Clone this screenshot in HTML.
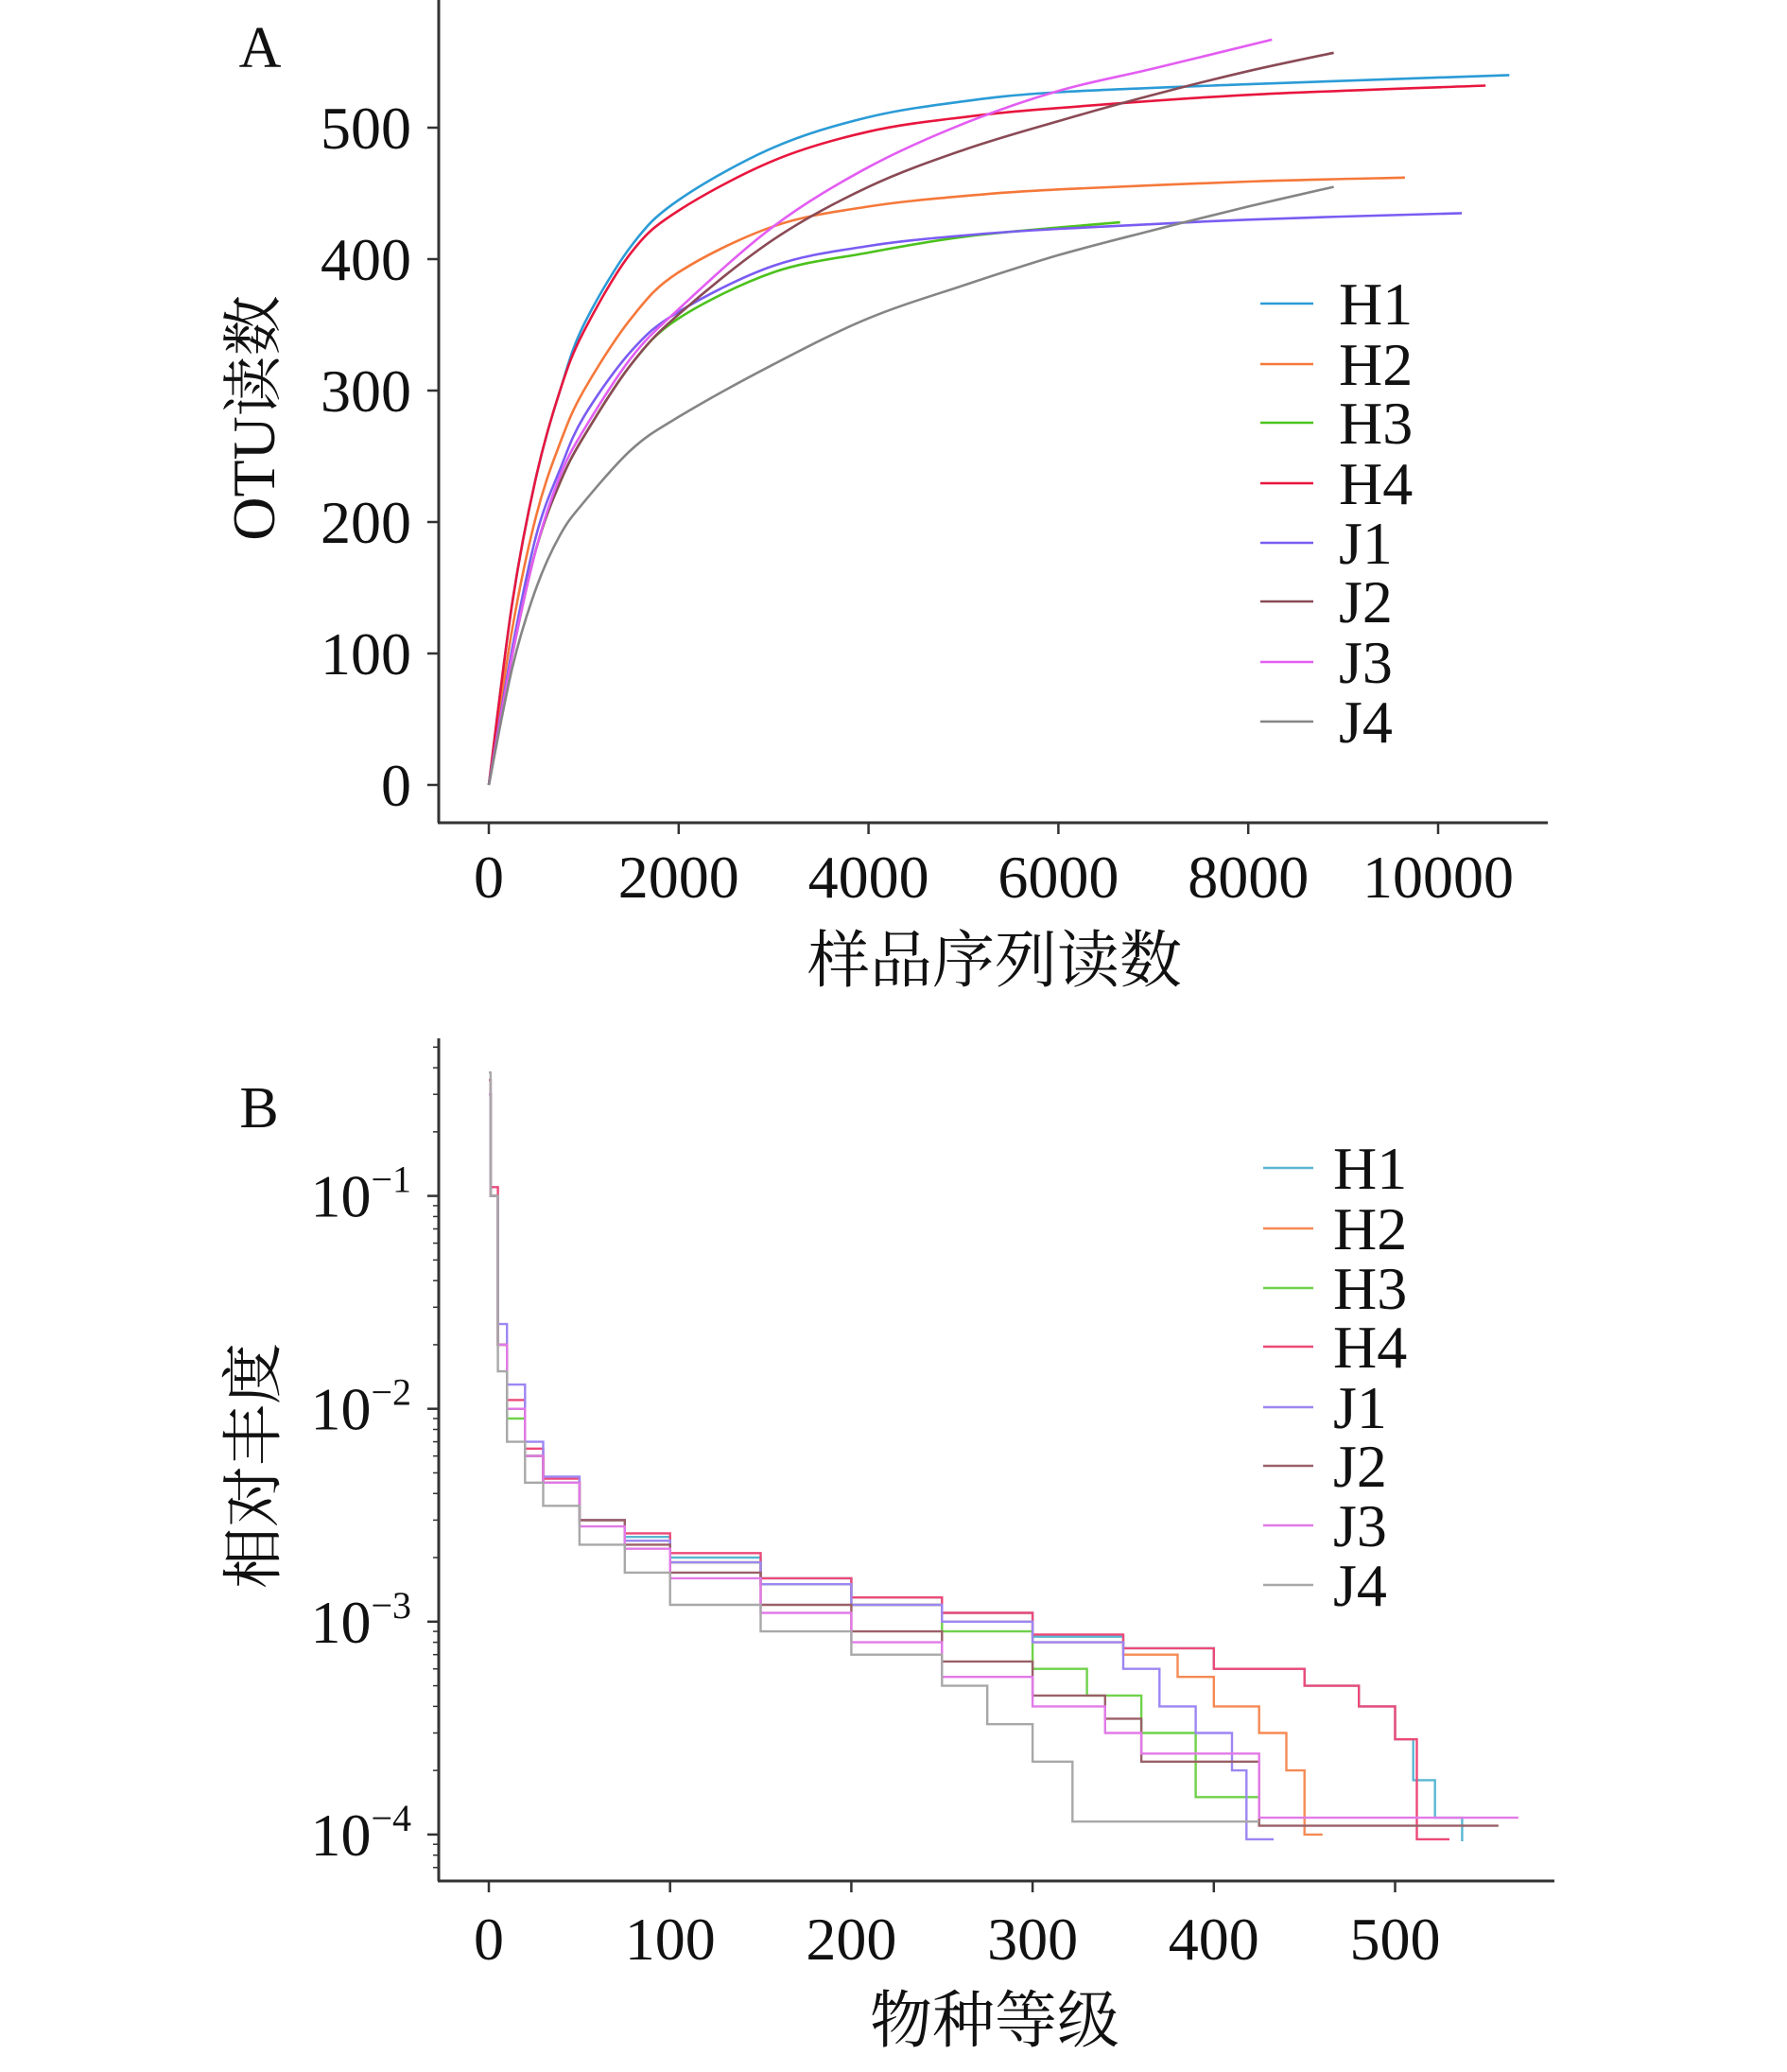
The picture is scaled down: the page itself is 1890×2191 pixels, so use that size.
<!DOCTYPE html>
<html><head><meta charset="utf-8"><style>
html,body{margin:0;padding:0;background:#fff;}
svg{display:block;font-family:"Liberation Serif","Noto Serif CJK SC","Noto Sans CJK SC",serif;}
</style></head><body>
<svg id="fig" xmlns="http://www.w3.org/2000/svg" width="1890" height="2191" viewBox="0 0 1890 2191">
<g id="panelA"></g>
<g id="panelB"></g>
</svg>
<script>
// ---------- Panel A data ----------
const seriesNames = ["H1","H2","H3","H4","J1","J2","J3","J4"];
const colorsA = ["#2b9bd6","#f5783a","#4cc21c","#e8163e","#7a5cf2","#8a4a55","#e35df2","#858585"];
const colorsB = ["#5ab6d2","#f58a55","#6fd24a","#ec4a78","#9d86f2","#9a6068","#e27ae8","#a8a8a8"];
const xTicksA = [0,2000,4000,6000,8000,10000];
const yTicksA = [0,100,200,300,400,500];
const readsX_H1 = [0,250,500,750,1000,1500,2000,3000,4000,5000,6000,8000,10750];
const otu_H1 =    [0,140,235,300,350,410,445,485,508,520,527,533,540];
const readsX_H2 = [0,250,500,750,1000,1500,2000,3000,4000,5000,6000,8000,9650];
const otu_H2 =    [0,120,205,260,300,355,390,425,440,448,453,459,462];
const readsX_H3 = [0,250,500,750,1000,1500,2000,3000,4000,5000,6000,6650];
const otu_H3 =    [0,100,180,230,265,320,355,390,405,417,424,428];
const readsX_H4 = [0,250,500,750,1000,1500,2000,3000,4000,5000,6000,8000,10500];
const otu_H4 =    [0,140,235,300,345,405,437,475,497,508,515,525,532];
const readsX_J1 = [0,250,500,750,1000,1500,2000,3000,4000,5000,6000,8000,10250];
const otu_J1 =    [0,105,190,240,280,330,360,395,410,418,423,430,435];
const readsX_J2 = [0,250,500,750,1000,1500,2000,3000,4000,5000,6000,7000,8000,8900];
const otu_J2 =    [0,100,180,230,265,320,358,415,455,483,505,525,543,557];
const readsX_J3 = [0,250,500,750,1000,1500,2000,3000,4000,5000,6000,7000,8250];
const otu_J3 =    [0,100,180,235,270,325,362,425,470,503,528,545,567];
const readsX_J4 = [0,250,500,750,1000,1500,2000,3000,4000,5000,6000,7000,8000,8900];
const otu_J4 =    [0,90,150,190,215,255,280,320,355,380,403,422,440,455];
const readsXA = [readsX_H1,readsX_H2,readsX_H3,readsX_H4,readsX_J1,readsX_J2,readsX_J3,readsX_J4];
const otuA = [otu_H1,otu_H2,otu_H3,otu_H4,otu_J1,otu_J2,otu_J3,otu_J4];

// ---------- Panel B data ----------
const xTicksB = [0,100,200,300,400,500];
const yExpB = [-1,-2,-3,-4];
const rank_H1 = [0,1,5,10,20,30,50,75,100,150,200,250,300,350,400,450,480,500,510,522,537];
const abund_H1 = [0.35,0.1,0.02,0.01,0.006,0.0045,0.003,0.0025,0.002,0.0016,0.0013,0.0011,0.00085,0.00075,0.0006,0.0005,0.0004,0.00028,0.00018,0.00012,0.000093];
const rank_H2 = [0,1,5,10,20,30,50,75,100,150,200,250,300,350,380,400,425,440,450,460];
const abund_H2 = [0.3,0.1,0.02,0.01,0.006,0.0045,0.003,0.0024,0.0019,0.0015,0.0012,0.001,0.0008,0.0007,0.00055,0.0004,0.0003,0.0002,0.0001,0.0001];
const rank_H3 = [0,1,5,10,20,30,50,75,100,150,200,250,300,330,360,390,425];
const abund_H3 = [0.3,0.1,0.02,0.009,0.006,0.0045,0.003,0.0024,0.0019,0.0015,0.0012,0.0009,0.0006,0.00045,0.0003,0.00015,0.00015];
const rank_H4 = [0,1,5,10,20,30,50,75,100,150,200,250,300,350,400,450,480,500,512,530];
const abund_H4 = [0.35,0.11,0.02,0.011,0.0065,0.0047,0.003,0.0026,0.0021,0.0016,0.0013,0.0011,0.00087,0.00075,0.0006,0.0005,0.0004,0.00028,0.000095,0.000095];
const rank_J1 = [0,1,5,10,20,30,50,75,100,150,200,250,300,350,370,390,410,418,433];
const abund_J1 = [0.3,0.1,0.025,0.013,0.007,0.0048,0.003,0.0024,0.0019,0.0015,0.0012,0.001,0.0008,0.0006,0.0004,0.0003,0.0002,0.000095,0.000095];
const rank_J2 = [0,1,5,10,20,30,50,75,100,150,200,250,300,340,360,425,557];
const abund_J2 = [0.3,0.1,0.02,0.01,0.006,0.0045,0.003,0.0023,0.0017,0.0012,0.0009,0.00065,0.00045,0.00035,0.00022,0.00011,0.00011];
const rank_J3 = [0,1,5,10,20,30,50,75,100,150,200,250,300,340,360,425,568];
const abund_J3 = [0.3,0.1,0.02,0.01,0.006,0.0045,0.0028,0.0022,0.0016,0.0011,0.0008,0.00055,0.0004,0.0003,0.00024,0.00012,0.00012];
const rank_J4 = [0,1,5,10,20,30,50,75,100,150,200,250,275,300,322,425];
const abund_J4 = [0.38,0.1,0.015,0.007,0.0045,0.0035,0.0023,0.0017,0.0012,0.0009,0.0007,0.0005,0.00033,0.00022,0.000115,0.000115];
const rankB = [rank_H1,rank_H2,rank_H3,rank_H4,rank_J1,rank_J2,rank_J3,rank_J4];
const abundB = [abund_H1,abund_H2,abund_H3,abund_H4,abund_J1,abund_J2,abund_J3,abund_J4];

const NS="http://www.w3.org/2000/svg";
function mk(tag,attrs,parent){const e=document.createElementNS(NS,tag);for(const k in attrs)e.setAttribute(k,attrs[k]);parent.appendChild(e);return e;}

const xA = v => 517 + v*0.1004;
const yA = v => 830 - v*1.39;
const xB = v => 517 + v*1.917;
const yB = v => 1264.6 + (-1 - Math.log10(v))*225.1;

function smoothPath(P){
  let d='M'+P[0][0].toFixed(1)+','+P[0][1].toFixed(1);
  for(let i=0;i<P.length-1;i++){
    const p0=P[Math.max(0,i-1)],p1=P[i],p2=P[i+1],p3=P[Math.min(P.length-1,i+2)];
    const c1x=p1[0]+(p2[0]-p0[0])/6,c1y=p1[1]+(p2[1]-p0[1])/6;
    const c2x=p2[0]-(p3[0]-p1[0])/6,c2y=p2[1]-(p3[1]-p1[1])/6;
    d+=' C'+c1x.toFixed(1)+','+c1y.toFixed(1)+' '+c2x.toFixed(1)+','+c2y.toFixed(1)+' '+p2[0].toFixed(1)+','+p2[1].toFixed(1);
  }
  return d;
}

const gA=document.getElementById('panelA');
let ax=mk('line',{x1:464,y1:0,x2:464,y2:870,stroke:'#333','stroke-width':3},gA);


ax=mk('line',{x1:463,y1:870,x2:1637,y2:870,stroke:'#333','stroke-width':3},gA);


yTicksA.forEach(v=>{
  const t=mk('line',{x1:452,y1:yA(v),x2:464,y2:yA(v),stroke:'#333','stroke-width':2.5},gA);
  
  
  const l=mk('text',{x:435,y:yA(v)+22,'text-anchor':'end','font-size':64,fill:'#111'},gA);
  l.textContent=v;
  
  
});
xTicksA.forEach(v=>{
  const t=mk('line',{x1:xA(v),y1:870,x2:xA(v),y2:882,stroke:'#333','stroke-width':2.5},gA);
  
  
  const l=mk('text',{x:xA(v),y:949,'text-anchor':'middle','font-size':64,fill:'#111'},gA);
  l.textContent=v;
  
  
});
let tt=mk('text',{x:275,y:71,'text-anchor':'middle','font-size':62,fill:'#111'},gA);
tt.textContent='A';


tt=mk('text',{x:0,y:0,'text-anchor':'middle','font-size':64,fill:'#111',transform:'translate(290,442) rotate(-90)'},gA);
tt.textContent='OTU读数';


tt=mk('text',{x:1052,y:1038,'text-anchor':'middle','font-size':66,fill:'#111'},gA);
tt.textContent='样品序列读数';


readsXA.forEach((xs,i)=>{
  const P=xs.map((x,j)=>[xA(x),yA(otuA[i][j])]);
  const p=mk('path',{d:smoothPath(P),fill:'none',stroke:colorsA[i],'stroke-width':2.6,'stroke-linejoin':'round'},gA);
  
  
});
const legAy=[321,385,447,511,574,636,700,763];
seriesNames.forEach((n,i)=>{
  const g=mk('g',{},gA);
  
  
  mk('line',{x1:1333,y1:legAy[i],x2:1389,y2:legAy[i],stroke:colorsA[i],'stroke-width':2.6},g);
  const l=mk('text',{x:1416,y:legAy[i]+22,'font-size':64,fill:'#111'},g);
  l.textContent=n;
});

const gB=document.getElementById('panelB');
ax=mk('line',{x1:464,y1:1098,x2:464,y2:1989,stroke:'#333','stroke-width':3},gB);


ax=mk('line',{x1:463,y1:1989,x2:1644,y2:1989,stroke:'#333','stroke-width':3},gB);


for(let e=-5;e<=-1;e++){
  for(let m=2;m<=9;m++){
    const v=m*Math.pow(10,e);
    const y=yB(v);
    if(y<1105||y>1985)continue;
    const t=mk('line',{x1:458,y1:y,x2:464,y2:y,stroke:'#333','stroke-width':1.5},gB);
    
    
  }
}
yExpB.forEach(e=>{
  const y=yB(Math.pow(10,e));
  const t=mk('line',{x1:452,y1:y,x2:464,y2:y,stroke:'#333','stroke-width':2.5},gB);
  
  
  const l=mk('text',{x:435,y:y+22,'text-anchor':'end','font-size':64,fill:'#111'},gB);
  
  
  const a=mk('tspan',{},l);a.textContent='10';
  const b=mk('tspan',{dy:-26,'font-size':40},l);b.textContent='−'+(-e);
});
xTicksB.forEach(v=>{
  const t=mk('line',{x1:xB(v),y1:1989,x2:xB(v),y2:2001,stroke:'#333','stroke-width':2.5},gB);
  
  
  const l=mk('text',{x:xB(v),y:2072,'text-anchor':'middle','font-size':64,fill:'#111'},gB);
  l.textContent=v;
  
  
});
tt=mk('text',{x:274,y:1192,'text-anchor':'middle','font-size':62,fill:'#111'},gB);
tt.textContent='B';


tt=mk('text',{x:0,y:0,'text-anchor':'middle','font-size':65,fill:'#111',transform:'translate(290,1550) rotate(-90)'},gB);
tt.textContent='相对丰度';


tt=mk('text',{x:1052,y:2159,'text-anchor':'middle','font-size':66,fill:'#111'},gB);
tt.textContent='物种等级';


rankB.forEach((rs,i)=>{
  const vs=abundB[i];
  let d='M'+xB(rs[0]).toFixed(1)+','+yB(vs[0]).toFixed(1);
  for(let j=1;j<rs.length;j++){
    d+=' H'+xB(rs[j]).toFixed(1)+' V'+yB(vs[j]).toFixed(1);
  }
  const p=mk('path',{d:d,fill:'none',stroke:colorsB[i],'stroke-width':2.4,'stroke-linejoin':'miter'},gB);
  
  
});
const legBy=[1235,1299,1362,1424,1488,1550,1613,1676];
seriesNames.forEach((n,i)=>{
  const g=mk('g',{},gB);
  
  
  mk('line',{x1:1336,y1:legBy[i],x2:1389,y2:legBy[i],stroke:colorsB[i],'stroke-width':2.6},g);
  const l=mk('text',{x:1410,y:legBy[i]+22,'font-size':64,fill:'#111'},g);
  l.textContent=n;
});
</script>
</body></html>
